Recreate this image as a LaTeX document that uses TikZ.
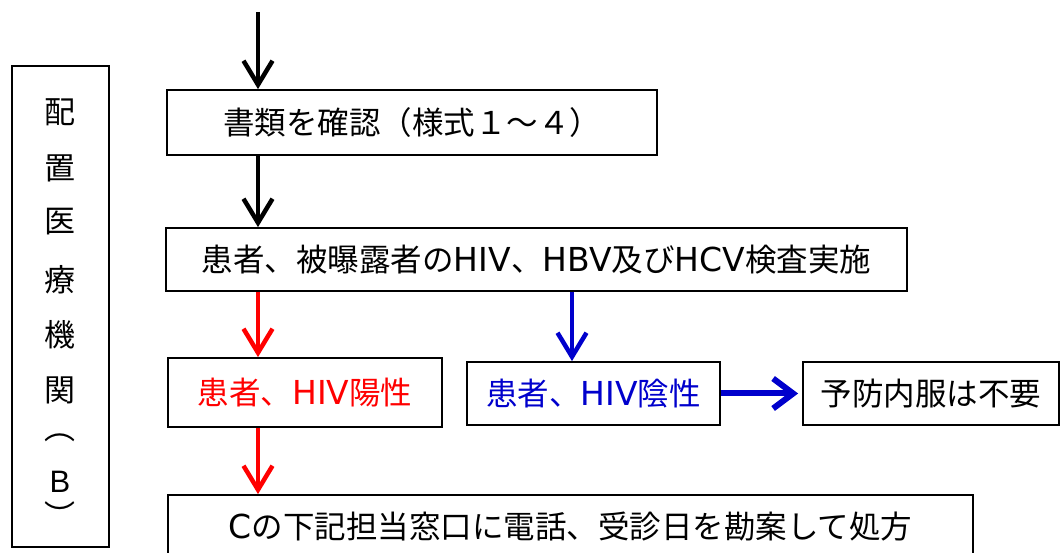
\documentclass[tikz,border=0pt]{standalone}
\usepackage{fontspec}
\setmainfont{DejaVu Sans}
\newfontfamily\jpfont{Noto Sans CJK JP}
\newfontfamily\arfont{Liberation Sans}
\newcommand\jt[1]{{\jpfont\fontsize{31.5}{36}\selectfont #1}}
\usetikzlibrary{arrows.meta}
\definecolor{myred}{RGB}{255,0,0}
\definecolor{myblue}{RGB}{0,0,204}
\begin{document}
\begin{tikzpicture}[x=1pt,y=-1pt,
  box/.style={draw=black,line width=1.8pt,inner sep=0pt,font=\fontsize{33}{38}\selectfont},
  colch/.style={inner sep=0pt,font=\jpfont\fontsize{31}{34}\selectfont},
  arr/.style={line width=4.5pt,-{Straight Barb[length=24pt,width=29pt,line width=4.5pt]}},
  harr/.style={line width=6pt,myblue,shorten >=4pt,-{Straight Barb[length=20pt,width=30pt,line width=6pt]}}]
\useasboundingbox (0,0) rectangle (1061,553);
% left column
\node[box,minimum width=97pt,minimum height=481pt] (left) at (60.5,306.5) {};
\foreach \c/\y [count=\i] in {配/112,置/168,医/222,療/280,機/335,関/390,︵/438,{\arfont\fontsize{31}{34}\selectfont B}/482,︶/515}
  \node[colch] (c\i) at (60,\y) {\c};
% boxes
\node[box,minimum width=490pt,minimum height=65pt] (b1) at (412,122.5) {\jt{書類を確認（様式１～４）}};
\node[box,minimum width=741pt,minimum height=63pt] (b2) at (536.5,259.5) {\jt{患者、被曝露者の}HIV\jt{、}HBV\jt{及び}HCV\jt{検査実施}\hspace{24pt}};
\node[box,minimum width=274pt,minimum height=69pt,text=myred] (b3) at (305,392.5) {\jt{患者、}HIV\jt{陽性}};
\node[box,minimum width=253pt,minimum height=63pt,text=myblue] (b4) at (593.5,393.5) {\jt{患者、}HIV\jt{陰性}};
\node[box,minimum width=256pt,minimum height=63pt] (b5) at (931,393.5) {\jt{予防内服は不要}};
\node[box,minimum width=805pt,minimum height=64pt] (b6) at (570.5,527) {C\jt{の下記担当窓口に電話、受診日を勘案して処方}};
% connectors
\coordinate (s0) at (258,12);
\coordinate (bx) at (572,0);
\draw[arr] (s0) -- (s0 |- b1.north);
\draw[arr] (b1.south -| s0) -- (b2.north -| s0);
\draw[arr,myred] (b2.south -| s0) -- (b3.north -| s0);
\draw[arr,myblue] (b2.south -| bx) -- (b4.north -| bx);
\draw[harr] (b4.east) -- (b5.west);
\draw[arr,myred] (b3.south -| s0) -- (b6.north -| s0);
\end{tikzpicture}
\end{document}
